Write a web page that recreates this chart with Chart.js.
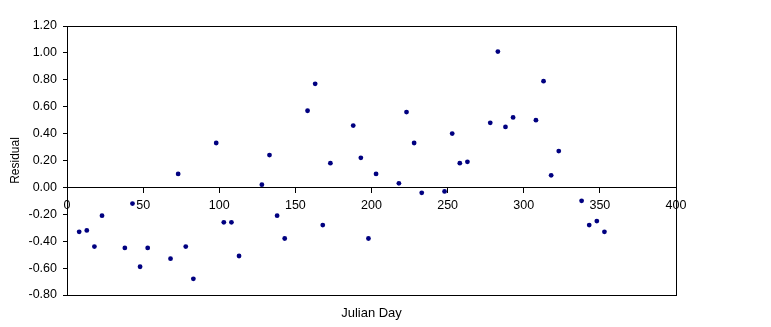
<!DOCTYPE html>
<html>
<head>
<meta charset="utf-8">
<script src="https://cdn.jsdelivr.net/npm/chart.js@4/dist/chart.umd.min.js"></script>
<style>
  html, body { margin: 0; padding: 0; background: #ffffff; }
  #wrap { width: 771px; height: 327px; }
</style>
</head>
<body>
<div id="wrap"><canvas id="c" width="771" height="327"></canvas></div>
<script>
// Julian day of each sample
const julianDays = [
  8, 13, 18, 23, 38, 43, 48, 53, 68, 73, 78, 83,
  98, 103, 108, 113, 128, 133, 138, 143, 158, 163, 168, 173,
  188, 193, 198, 203, 218, 223, 228, 233, 248, 253, 258, 263,
  278, 283, 288, 293, 308, 313, 318, 323, 338, 343, 348, 353
];
// Residual values
const residuals = [
  -0.33, -0.32, -0.44, -0.21, -0.45, -0.12, -0.59, -0.45, -0.53, 0.10, -0.44, -0.68,
  0.33, -0.26, -0.26, -0.51, 0.02, 0.24, -0.21, -0.38, 0.57, 0.77, -0.28, 0.18,
  0.46, 0.22, -0.38, 0.10, 0.03, 0.56, 0.33, -0.04, -0.03, 0.40, 0.18, 0.19,
  0.48, 1.01, 0.45, 0.52, 0.50, 0.79, 0.09, 0.27, -0.10, -0.28, -0.25, -0.33
];
const xRange = [0, 400];
const xStep = 50;
const yRange = [-0.8, 1.2];
const yStep = 0.2;
const xTitle = 'Julian Day';
const yTitle = 'Residual';

const points = julianDays.map((d, i) => ({ x: d, y: residuals[i] }));

const FONT = "'Liberation Sans', Arial, sans-serif";

const framePlugin = {
  id: 'frame',
  beforeDatasetsDraw(chart) {
    const a = chart.chartArea;
    const ctx = chart.ctx;
    ctx.save();
    ctx.strokeStyle = '#000000';
    ctx.lineWidth = 1;
    ctx.strokeRect(Math.round(a.left) + 0.5, Math.round(a.top) + 0.5,
                   Math.round(a.right) - Math.round(a.left), Math.round(a.bottom) - Math.round(a.top));
    ctx.restore();
  }
};

new Chart(document.getElementById('c'), {
  type: 'scatter',
  data: {
    datasets: [{
      data: points,
      xAxisID: 'x',
      yAxisID: 'y',
      pointStyle: 'circle',
      pointRadius: 2.4,
      pointHoverRadius: 2.4,
      pointBorderWidth: 0,
      backgroundColor: '#000080',
      borderColor: '#000080'
    }]
  },
  options: {
    responsive: false,
    animation: false,
    devicePixelRatio: 1,
    layout: { padding: { left: 0, top: 26, right: 95, bottom: 6.2 } },
    plugins: {
      legend: { display: false },
      tooltip: { enabled: false },
      title: { display: false }
    },
    scales: {
      x: {
        type: 'linear',
        position: 'bottom',
        min: xRange[0],
        max: xRange[1],
        grid: { display: false, drawTicks: false },
        border: { display: true, color: '#000000', width: 1 },
        ticks: { display: false, stepSize: xStep },
        title: {
          display: true,
          text: xTitle,
          color: '#000000',
          font: { family: FONT, size: 13 },
          padding: { top: 10.2, bottom: 0 }
        }
      },
      x2: {
        type: 'linear',
        position: { y: 0 },
        min: xRange[0],
        max: xRange[1],
        grid: { drawOnChartArea: false, drawTicks: true, tickLength: 5, color: '#000000' },
        border: { display: true, color: '#000000', width: 1 },
        ticks: {
          stepSize: xStep,
          autoSkip: false,
          maxRotation: 0,
          padding: 6,
          color: '#000000',
          font: { family: FONT, size: 12.5 },
          callback: (v) => String(v)
        }
      },
      y: {
        type: 'linear',
        position: 'left',
        min: yRange[0],
        max: yRange[1],
        afterFit: (scale) => { scale.width = 67; },
        grid: { drawOnChartArea: false, drawTicks: true, tickLength: 4, color: '#000000' },
        border: { display: true, color: '#000000', width: 1 },
        ticks: {
          stepSize: yStep,
          autoSkip: false,
          padding: 6,
          color: '#000000',
          font: { family: FONT, size: 12.5 },
          callback: (v) => Number(v).toFixed(2)
        },
        title: {
          display: true,
          text: yTitle,
          color: '#000000',
          font: { family: FONT, size: 12 },
          padding: { top: 8.8, bottom: 0 }
        }
      }
    }
  },
  plugins: [framePlugin]
});
</script>
</body>
</html>
